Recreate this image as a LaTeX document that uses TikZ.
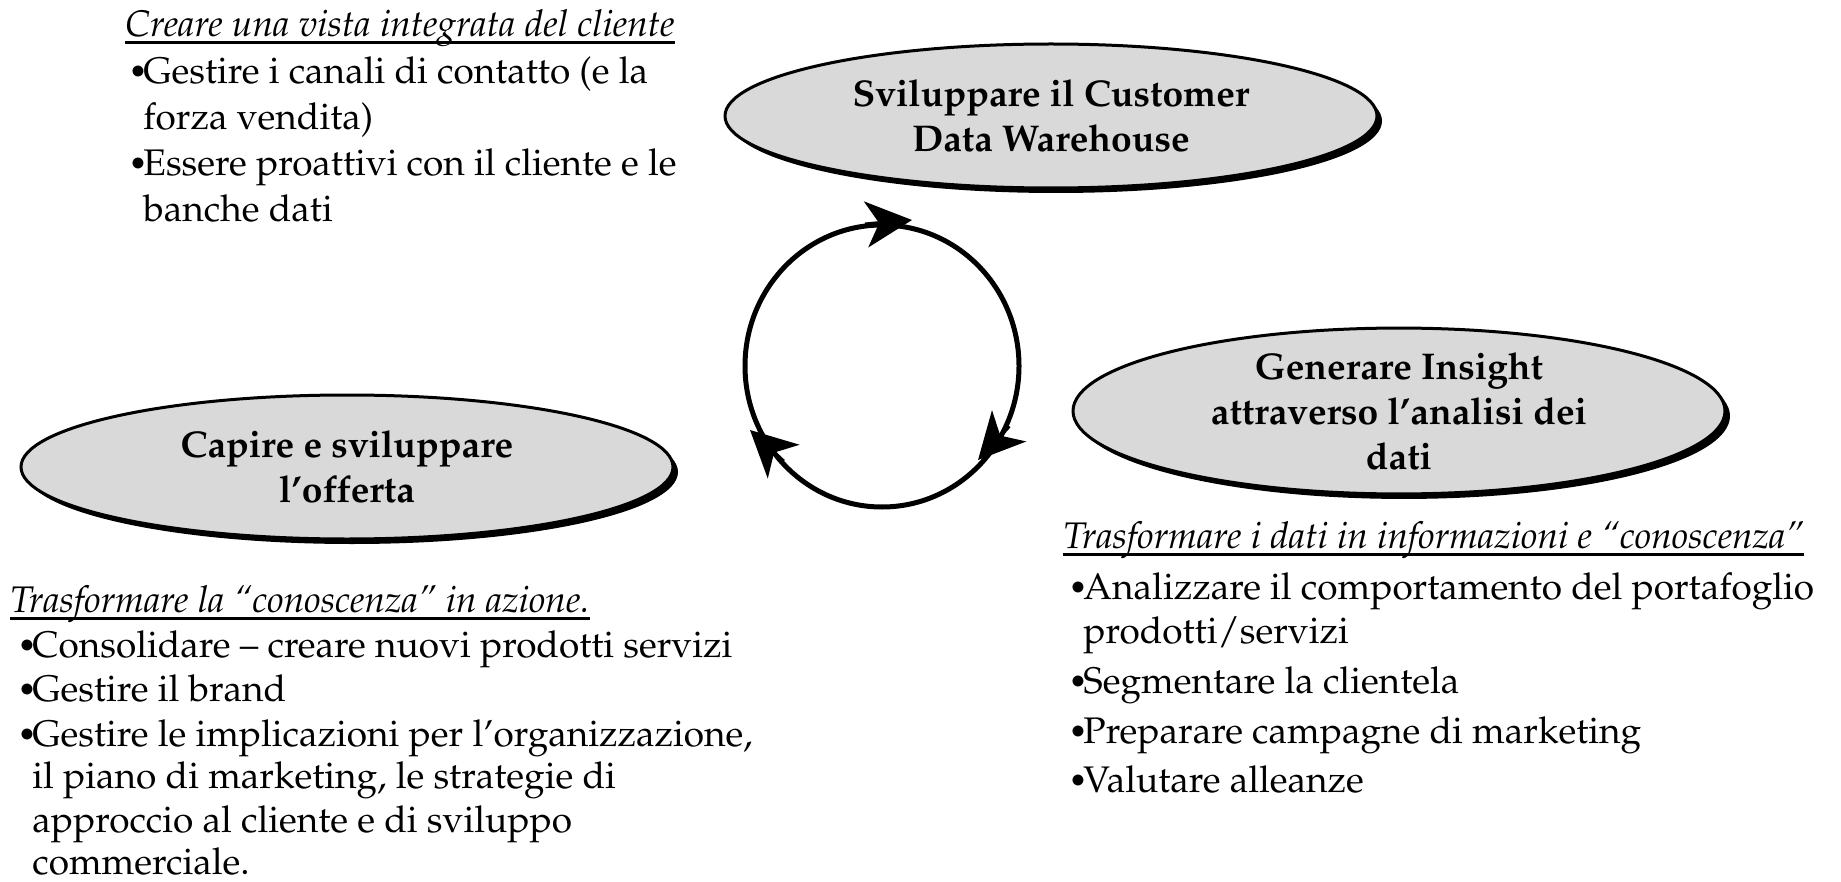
\documentclass[tikz,border=0pt]{standalone}
\usepackage[T1]{fontenc}
\usepackage{mathpazo}
\usetikzlibrary{arrows.meta,shapes.geometric,shadows}
\definecolor{ellgray}{RGB}{217,217,217}
\newcommand{\bul}{\llap{\makebox[7.5pt][l]{\raisebox{0.5pt}{\fontsize{16}{16}\selectfont\textbullet}}}}
\begin{document}
\begin{tikzpicture}[x=0.5pt,y=-0.5pt,
  txt/.style={anchor=base west, inner sep=0pt, font=\fontsize{18.5}{22}\selectfont},
  ttl/.style={anchor=base west, inner sep=0pt, font=\fontsize{18.5}{22}\selectfont\itshape},
  blob/.style={ellipse, draw=black, line width=1.5pt, fill=ellgray,
    minimum width=326pt, minimum height=72pt, inner sep=0pt, align=center,
    font=\fontsize{18.6}{22.5}\selectfont\bfseries,
    drop shadow={shadow xshift=2.5pt, shadow yshift=-2.5pt, opacity=1, fill=black}},
  ul/.style={line width=1.5pt},
  cyc/.style={line width=2.5pt},
  tipar/.style={line width=2pt, -{Stealth[length=23pt,width=23pt,inset=6.5pt]}}
]
\fill[white] (0,0) rectangle (1841,882);
\useasboundingbox (0,0) rectangle (1841,882);

% top-left block
\node[ttl] (a0) at (125,37) {Creare una vista integrata del cliente};
\draw[ul] ([yshift=-3pt]a0.base west) -- ([yshift=-3pt]a0.base east);
\node[txt] (a1) at (143,84) {\bul Gestire i canali di contatto (e la};
\node[txt] (a2) at (143,130) {forza vendita)};
\node[txt] (a3) at (143,176) {\bul Essere proattivi con il cliente e le};
\node[txt] (a4) at (143,222) {banche dati};

% bottom-left block
\node[ttl] (b0) at (10,612) {Trasformare la ``conoscenza'' in azione.};
\draw[ul] ([yshift=-3pt]b0.base west) -- ([yshift=-3pt]b0.base east);
\node[txt] (b1) at (32,657) {\bul Consolidare -- creare nuovi prodotti servizi};
\node[txt] (b2) at (32,701) {\bul Gestire il brand};
\node[txt] (b3) at (32,746) {\bul Gestire le implicazioni per l'organizzazione,};
\node[txt] (b4) at (32,788) {il piano di marketing, le strategie di};
\node[txt] (b5) at (32,832) {approccio al cliente e di sviluppo};
\node[txt] (b6) at (32,874) {commerciale.};

% right block
\node[ttl] (c0) at (1063,548) {Trasformare i dati in informazioni e ``conoscenza''};
\draw[ul] ([yshift=-3pt]c0.base west) -- ([yshift=-3pt]c0.base east);
\node[txt] (c1) at (1083,599) {\bul Analizzare il comportamento del portafoglio};
\node[txt] (c2) at (1083,643) {prodotti/servizi};
\node[txt] (c3) at (1083,693) {\bul Segmentare la clientela};
\node[txt] (c4) at (1083,743) {\bul Preparare campagne di marketing};
\node[txt] (c5) at (1083,792) {\bul Valutare alleanze};

% ellipses
\node[blob] (e1) at (1051,116) {Sviluppare il Customer\\Data Warehouse};
\node[blob] (e2) at (347,467) {Capire e sviluppare\\l'offerta};
\node[blob] (e3) at (1399,411) {Generare Insight\\attraverso l'analisi dei\\dati};

% cycle
\coordinate (cc) at (882,366);
\draw[cyc] (cc) ellipse [x radius=68.5pt, y radius=70.5pt];
\coordinate (h1a) at (865,224.5); \coordinate (h1b) at (912,220);
\coordinate (h2a) at (1009,426);  \coordinate (h2b) at (978,460);
\coordinate (h3a) at (783.5,461.5); \coordinate (h3b) at (750,430);
\draw[tipar] (h1a) -- (h1b);
\draw[tipar] (h2a) -- (h2b);
\draw[tipar] (h3a) -- (h3b);
\end{tikzpicture}
\end{document}
